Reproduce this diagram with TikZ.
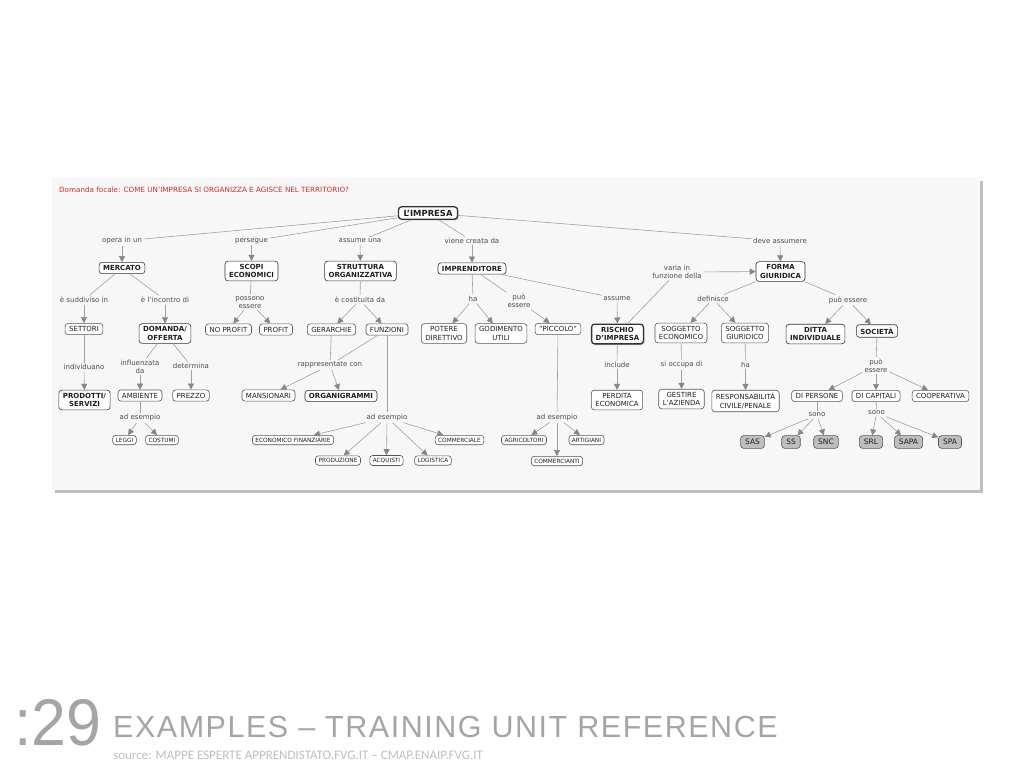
\documentclass[tikz,border=0pt]{standalone}
\usepackage{fontspec}
\usepackage{graphicx}
\setmainfont{DejaVu Sans}
\newfontfamily\slidefont{Liberation Sans}
\newfontfamily\headfont[LetterSpace=5]{Liberation Sans}
\newfontfamily\notefont{Carlito}
\usetikzlibrary{arrows.meta,shadows}

\definecolor{panelcolor}{RGB}{247,247,247}
\definecolor{linecolor}{RGB}{160,160,160}
\definecolor{tipcolor}{RGB}{135,135,135}
\definecolor{bordercolor}{RGB}{85,85,85}
\definecolor{conceptcolor}{RGB}{30,30,30}
\definecolor{labelcolor}{RGB}{75,75,75}
\definecolor{firmcolor}{RGB}{190,190,190}
\definecolor{focuscolor}{RGB}{210,45,45}
\definecolor{slidecolor}{RGB}{165,165,165}
\definecolor{sourcecolor}{RGB}{190,190,190}

\begin{document}
\begin{tikzpicture}[x=1pt, y=-1pt,
    main/.style = {draw=bordercolor, fill=white, rounded corners=3pt, line width=0.6pt, text=conceptcolor, align=center, inner xsep=4pt, inner ysep=3pt, font=\fontsize{7}{8.4}\selectfont},
    key/.style = {main, draw=black!80, font=\fontsize{7}{8.4}\selectfont\bfseries},
    core/.style = {key, line width=1.3pt, drop shadow={shadow xshift=1.2pt, shadow yshift=-1.2pt, fill=black!45}},
    small/.style = {main, inner xsep=3pt, inner ysep=2.5pt, font=\fontsize{5.8}{6.6}\selectfont},
    firm/.style = {main, fill=firmcolor, inner xsep=4.5pt, inner ysep=3.5pt, font=\fontsize{7.5}{8.4}\selectfont},
    link/.style = {text=labelcolor, align=center, inner sep=1.5pt, font=\fontsize{7}{8.2}\selectfont},
    line/.style = {draw=linecolor, line width=0.6pt},
    arrow/.style = {line, -{Triangle[width=6pt, length=6pt, color=tipcolor]}}]

    \useasboundingbox (0,0) rectangle (1024,768);
    \fill[black!25] (55,181) rectangle (983,493);
    \fill[panelcolor] (52,178) rectangle (980,490);

    \node[anchor=west, inner sep=0, text=focuscolor, font=\fontsize{7.2}{8.4}\selectfont] (Focale) at (59,189.5) {Domanda focale: COME UN'IMPRESA SI ORGANIZZA E AGISCE NEL TERRITORIO?};

    \node[core, font=\fontsize{8.4}{9}\selectfont\bfseries, inner xsep=5pt] (Impresa) at (428,213) {L'IMPRESA};

    \node[link] (opera) at (122,241) {opera in un};
    \node[link] (persegue) at (251.5,241) {persegue};
    \node[link] (assumeuna) at (360,241) {assume una};
    \node[link] (vienecreata) at (472,241) {viene creata da};
    \node[link] (deveassumere) at (780,241) {deve assumere};

    \node[key] (Mercato) at (122,268) {MERCATO};
    \node[key] (Scopi) at (251.5,271) {SCOPI\\ECONOMICI};
    \node[key] (Struttura) at (360.5,271) {STRUTTURA\\ORGANIZZATIVA};
    \node[key] (Imprenditore) at (472,268.5) {IMPRENDITORE};
    \node[key] (Forma) at (780.5,271.5) {FORMA\\GIURIDICA};

    \node[link] (suddiviso) at (84,300) {è suddiviso in};
    \node[link] (incontro) at (165,300) {è l'incontro di};
    \node[link] (possono) at (250,302.5) {possono\\essere};
    \node[link] (costituita) at (360,300) {è costituita da};
    \node[link] (ha) at (473,299) {ha};
    \node[link] (puo) at (519,301) {può\\essere};
    \node[link] (assume) at (617,298.5) {assume};
    \node[link] (varia) at (677,272) {varia in\\funzione della};
    \node[link] (definisce) at (713,299) {definisce};
    \node[link] (puoessere) at (848,300) {può essere};

    \node[main] (Settori) at (84,329) {SETTORI};
    \node[key] (Domanda) at (165,333.5) {DOMANDA/\\OFFERTA};
    \node[main] (Noprofit) at (228.5,329.5) {NO PROFIT};
    \node[main] (Profit) at (276,329.5) {PROFIT};
    \node[main] (Gerarchie) at (331.5,329.5) {GERARCHIE};
    \node[main] (Funzioni) at (387,329.5) {FUNZIONI};
    \node[main] (Potere) at (444,333.5) {POTERE\\DIRETTIVO};
    \node[main] (Godimento) at (501,333.5) {GODIMENTO\\UTILI};
    \node[main] (Piccolo) at (558,329) {"PICCOLO"};
    \node[core] (Rischio) at (617.5,334) {RISCHIO\\D'IMPRESA};
    \node[main] (Economico) at (681,333) {SOGGETTO\\ECONOMICO};
    \node[main] (Giuridico) at (745,333) {SOGGETTO\\GIURIDICO};
    \node[key] (Ditta) at (815.5,334) {DITTA\\INDIVIDUALE};
    \node[key] (Societa) at (877,331) {SOCIETÀ};

    \node[link] (individuano) at (84,367) {individuano};
    \node[link] (influenzata) at (140,366.5) {influenzata\\da};
    \node[link] (determina) at (191,366) {determina};
    \node[link] (rappresentate) at (330,365) {rappresentate con};
    \node[link] (include) at (617,365) {include};
    \node[link] (occupa) at (681.5,365) {si occupa di};
    \node[link] (hapure) at (745.5,365) {ha};
    \node[link] (puopure) at (876,365.5) {può\\essere};

    \node[key] (Prodotti) at (84.5,400) {PRODOTTI/\\SERVIZI};
    \node[main] (Ambiente) at (140,395.5) {AMBIENTE};
    \node[main] (Prezzo) at (191,395.5) {PREZZO};
    \node[main] (Mansionari) at (268.5,395.5) {MANSIONARI};
    \node[key] (Organigrammi) at (341,396) {ORGANIGRAMMI};
    \node[main] (Perdita) at (617,400) {PERDITA\\ECONOMICA};
    \node[main] (Gestire) at (681.5,399) {GESTIRE\\L'AZIENDA};
    \node[main] (Responsabilita) at (745.5,401) {RESPONSABILITÀ\\CIVILE/PENALE};
    \node[main] (Persone) at (817,396) {DI PERSONE};
    \node[main] (Capitali) at (876,396) {DI CAPITALI};
    \node[main] (Cooperativa) at (940.5,396) {COOPERATIVA};

    \node[link] (esempio) at (140,418) {ad esempio};
    \node[link] (esempiof) at (387,417.5) {ad esempio};
    \node[link] (esempiop) at (557,417.5) {ad esempio};
    \node[link] (sono) at (817,415) {sono};
    \node[link] (sonoc) at (876.5,413) {sono};

    \node[small] (Leggi) at (124.5,440) {LEGGI};
    \node[small] (Costumi) at (162,440) {COSTUMI};
    \node[small] (Economicof) at (293,440) {ECONOMICO FINANZIARIE};
    \node[small] (Commerciale) at (459.5,440) {COMMERCIALE};
    \node[small] (Produzione) at (338,460.5) {PRODUZIONE};
    \node[small] (Acquisti) at (386.5,460.5) {ACQUISTI};
    \node[small] (Logistica) at (433,460.5) {LOGISTICA};
    \node[small] (Agricoltori) at (524,440) {AGRICOLTORI};
    \node[small] (Artigiani) at (586.5,440) {ARTIGIANI};
    \node[small] (Commercianti) at (557,461) {COMMERCIANTI};

    \node[firm] (Sas) at (752.5,442) {SAS};
    \node[firm] (Ss) at (791,442) {SS};
    \node[firm] (Snc) at (826,442) {SNC};
    \node[firm] (Srl) at (871,442) {SRL};
    \node[firm] (Sapa) at (908.5,442) {SAPA};
    \node[firm] (Spa) at (950,442) {SPA};

    \draw[line] (Impresa) -- (opera);
    \draw[line] (Impresa) -- (persegue);
    \draw[line] (Impresa) -- (assumeuna);
    \draw[line] (Impresa) -- (vienecreata);
    \draw[line] (Impresa) -- (deveassumere);
    \draw[arrow] (opera) -- (Mercato);
    \draw[arrow] (persegue) -- (Scopi);
    \draw[arrow] (assumeuna) -- (Struttura);
    \draw[arrow] (vienecreata) -- (Imprenditore);
    \draw[arrow] (deveassumere) -- (Forma);

    \draw[line] (Mercato) -- (suddiviso);
    \draw[line] (Mercato) -- (incontro);
    \draw[arrow] (suddiviso) -- (Settori);
    \draw[arrow] (incontro) -- (Domanda);
    \draw[line] (Scopi) -- (possono);
    \draw[arrow] (possono) -- (Noprofit);
    \draw[arrow] (possono) -- (Profit);
    \draw[line] (Struttura) -- (costituita);
    \draw[arrow] (costituita) -- (Gerarchie);
    \draw[arrow] (costituita) -- (Funzioni);
    \draw[line] (Imprenditore) -- (ha);
    \draw[arrow] (ha) -- (Potere);
    \draw[arrow] (ha) -- (Godimento);
    \draw[line] (Imprenditore) -- (puo);
    \draw[arrow] (puo) -- (Piccolo);
    \draw[line] (Imprenditore) -- (assume);
    \draw[arrow] (assume) -- (Rischio);
    \draw[line] (Rischio) -- (varia);
    \draw[arrow] (varia) -- (Forma);
    \draw[line] (Forma) -- (definisce);
    \draw[arrow] (definisce) -- (Economico);
    \draw[arrow] (definisce) -- (Giuridico);
    \draw[line] (Forma) -- (puoessere);
    \draw[arrow] (puoessere) -- (Ditta);
    \draw[arrow] (puoessere) -- (Societa);

    \draw[line] (Settori) -- (individuano);
    \draw[arrow] (individuano) -- (Prodotti);
    \draw[line] (Domanda) -- (influenzata);
    \draw[arrow] (influenzata) -- (Ambiente);
    \draw[line] (Domanda) -- (determina);
    \draw[arrow] (determina) -- (Prezzo);
    \draw[line] (Gerarchie) -- (rappresentate);
    \draw[line] (Funzioni) -- (rappresentate);
    \draw[arrow] (rappresentate) -- (Mansionari);
    \draw[arrow] (rappresentate) -- (Organigrammi);
    \draw[line] (Rischio) -- (include);
    \draw[arrow] (include) -- (Perdita);
    \draw[line] (Economico) -- (occupa);
    \draw[arrow] (occupa) -- (Gestire);
    \draw[line] (Giuridico) -- (hapure);
    \draw[arrow] (hapure) -- (Responsabilita);
    \draw[line] (Societa) -- (puopure);
    \draw[arrow] (puopure) -- (Persone);
    \draw[arrow] (puopure) -- (Capitali);
    \draw[arrow] (puopure) -- (Cooperativa);

    \draw[line] (Ambiente) -- (esempio);
    \draw[arrow] (esempio) -- (Leggi);
    \draw[arrow] (esempio) -- (Costumi);
    \draw[line] (Funzioni) -- (esempiof);
    \draw[arrow] (esempiof) -- (Economicof);
    \draw[arrow] (esempiof) -- (Produzione);
    \draw[arrow] (esempiof) -- (Acquisti);
    \draw[arrow] (esempiof) -- (Logistica);
    \draw[arrow] (esempiof) -- (Commerciale);
    \draw[line] (Piccolo) -- (esempiop);
    \draw[arrow] (esempiop) -- (Agricoltori);
    \draw[arrow] (esempiop) -- (Commercianti);
    \draw[arrow] (esempiop) -- (Artigiani);
    \draw[line] (Persone) -- (sono);
    \draw[arrow] (sono) -- (Sas);
    \draw[arrow] (sono) -- (Ss);
    \draw[arrow] (sono) -- (Snc);
    \draw[line] (Capitali) -- (sonoc);
    \draw[arrow] (sonoc) -- (Srl);
    \draw[arrow] (sonoc) -- (Sapa);
    \draw[arrow] (sonoc) -- (Spa);

    \node[anchor=base west, inner sep=0, text=slidecolor, font=\slidefont\fontsize{66}{66}\selectfont] (Numero) at (14,745) {\scalebox{0.95}[1]{:29}};
    \node[anchor=base west, inner sep=0, text=slidecolor, font=\headfont\fontsize{30.5}{32}\selectfont] (Titolo) at (113,737) {EXAMPLES – TRAINING UNIT REFERENCE};
    \node[anchor=base west, inner sep=0, text=sourcecolor, font=\notefont\fontsize{13}{14}\selectfont] (Fonte) at (113,759) {source: MAPPE ESPERTE APPRENDISTATO.FVG.IT – CMAP.ENAIP.FVG.IT};
\end{tikzpicture}
\end{document}
